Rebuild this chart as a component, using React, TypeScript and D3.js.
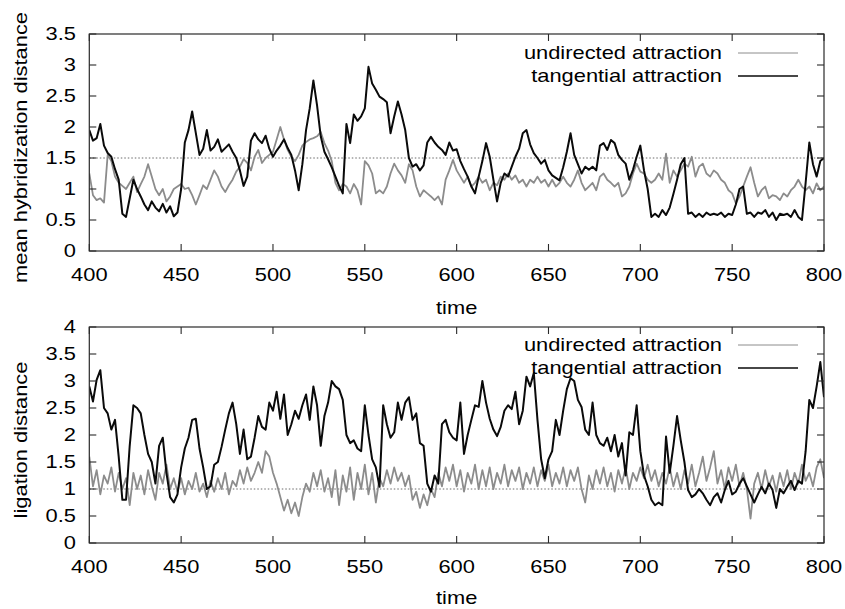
import React from "react";
import * as d3 from "d3";

const times = d3.range(400, 801, 2);
const xTicks = [400, 450, 500, 550, 600, 650, 700, 750, 800];
const hybTicks = [0, 0.5, 1, 1.5, 2, 2.5, 3, 3.5];
const ligTicks = [0, 0.5, 1, 1.5, 2, 2.5, 3, 3.5, 4];
const seriesNames = ["undirected attraction", "tangential attraction"];

const hybUndirected = [
  1.25, 0.90, 0.82, 0.85, 0.78, 1.55, 1.45, 1.20, 1.10, 1.05,
  1.00, 1.10, 1.20, 0.95, 1.08, 1.20, 1.40, 1.20, 1.00, 0.90,
  1.00, 0.80, 0.88, 1.00, 1.04, 1.08, 1.00, 1.02, 0.90, 0.75,
  0.90, 1.06, 1.00, 1.15, 1.30, 1.20, 1.04, 0.95, 1.06, 1.15,
  1.28, 1.36, 1.48, 1.42, 1.30, 1.52, 1.63, 1.42, 1.50, 1.55,
  1.60, 1.80, 2.00, 1.80, 1.63, 1.52, 1.45, 1.55, 1.70, 1.76,
  1.80, 1.82, 1.85, 1.92, 1.74, 1.62, 1.45, 1.10, 0.98, 1.08,
  1.04, 0.93, 1.08, 0.98, 0.75, 1.45, 1.38, 1.25, 0.93, 0.98,
  0.93, 1.04, 1.25, 1.41, 1.30, 1.22, 1.10, 1.40, 1.30, 1.04,
  0.88, 0.98, 0.93, 0.88, 0.82, 0.88, 0.75, 1.15, 1.30, 1.47,
  1.30, 1.20, 1.10, 1.20, 1.04, 1.10, 1.20, 1.10, 1.15, 0.98,
  1.10, 1.06, 1.20, 1.15, 1.25, 1.15, 1.22, 1.10, 1.15, 1.04,
  1.15, 1.10, 1.20, 1.10, 1.15, 1.04, 1.15, 1.04, 1.10, 1.20,
  1.10, 1.04, 1.15, 1.30, 1.10, 0.98, 1.04, 1.10, 0.98, 1.20,
  1.25, 1.15, 1.10, 1.04, 1.10, 0.88, 0.93, 1.04, 1.25, 1.41,
  1.28, 1.25, 1.15, 1.10, 1.15, 1.25, 1.15, 1.57, 1.10, 1.30,
  1.20, 1.30, 1.41, 1.36, 1.52, 1.20, 1.36, 1.41, 1.25, 1.20,
  1.30, 1.25, 1.15, 1.10, 0.98, 0.93, 0.77, 0.88, 1.04, 1.20,
  1.35, 1.10, 0.88, 0.98, 1.04, 0.85, 0.90, 0.88, 0.82, 0.93,
  0.88, 0.98, 1.04, 1.15, 1.04, 0.98, 1.04, 0.93, 1.09, 0.98,
  1.04,
];

const hybTangential = [
  1.95, 1.78, 1.82, 2.05, 1.70, 1.58, 1.52, 1.32, 1.15, 0.60,
  0.55, 0.85, 1.15, 1.00, 0.88, 0.75, 0.66, 0.80, 0.70, 0.64,
  0.76, 0.62, 0.72, 0.56, 0.62, 1.00, 1.75, 1.95, 2.25, 1.90,
  1.55, 1.65, 1.95, 1.62, 1.68, 1.80, 1.60, 1.66, 1.72, 1.60,
  1.50, 1.30, 1.05, 1.20, 1.78, 1.90, 1.80, 1.74, 1.86, 1.65,
  1.52, 1.62, 1.70, 1.80, 1.66, 1.55, 1.30, 0.98, 1.40, 1.95,
  2.30, 2.75, 2.35, 1.85, 1.60, 1.48, 1.35, 1.20, 1.05, 0.93,
  2.05, 1.74, 2.20, 2.10, 2.17, 2.30, 2.97, 2.70, 2.60, 2.49,
  2.45, 2.40, 1.90, 2.17, 2.41, 2.20, 1.95, 1.50, 1.36, 1.40,
  1.30, 1.38, 1.75, 1.84, 1.75, 1.68, 1.63, 1.55, 1.75, 1.62,
  1.64, 1.45, 1.32, 1.20, 1.04, 0.93, 1.20, 1.45, 1.74, 1.52,
  1.15, 0.80, 1.10, 1.25, 1.20, 1.36, 1.52, 1.65, 1.90, 1.95,
  1.72, 1.58, 1.50, 1.41, 1.47, 1.30, 1.22, 1.18, 1.14, 1.35,
  1.60, 1.90, 1.55, 1.40, 1.25, 1.36, 1.31, 1.36, 1.30, 1.70,
  1.74, 1.63, 1.79, 1.74, 1.55, 1.47, 1.41, 1.15, 1.31, 1.52,
  1.70, 1.30, 1.00, 0.55, 0.60, 0.55, 0.66, 0.58, 0.70, 0.92,
  1.15, 1.40, 1.50, 0.60, 0.62, 0.55, 0.60, 0.55, 0.62, 0.58,
  0.60, 0.58, 0.62, 0.55, 0.60, 0.58, 0.75, 1.00, 1.04, 0.60,
  0.62, 0.55, 0.62, 0.60, 0.66, 0.55, 0.62, 0.50, 0.60, 0.58,
  0.60, 0.55, 0.66, 0.55, 0.50, 1.10, 1.75, 1.40, 1.20, 1.45,
  1.50,
];

const ligUndirected = [
  1.60, 1.05, 1.35, 0.90, 1.25, 1.10, 1.40, 0.95, 1.30, 1.00,
  1.20, 0.70, 1.30, 1.00, 1.25, 0.90, 1.35, 1.05, 0.80, 1.30,
  1.10, 1.45, 1.00, 1.20, 0.95, 1.20, 0.90, 1.15, 1.00, 1.30,
  0.95, 1.10, 0.85, 1.15, 0.95, 1.20, 1.00, 1.30, 0.90, 1.15,
  1.05, 1.35, 1.10, 1.40, 1.15, 1.30, 1.50, 1.30, 1.70, 1.60,
  1.30, 1.10, 0.85, 0.60, 0.80, 0.55, 0.75, 0.50, 0.85, 1.10,
  0.95, 1.30, 1.05, 1.35, 0.95, 1.20, 0.85, 1.35, 0.70, 1.25,
  0.95, 1.40, 0.80, 1.30, 1.00, 1.45, 0.90, 1.30, 0.75, 1.20,
  1.05, 1.35, 1.10, 1.40, 1.15, 1.30, 1.05, 1.25, 0.80, 0.95,
  0.65, 0.90, 0.70, 1.00, 0.85, 1.30, 1.05, 1.40, 1.15, 1.45,
  1.05, 1.35, 0.95, 1.30, 1.10, 1.45, 1.00, 1.35, 1.05, 1.40,
  1.00, 1.30, 1.10, 1.45, 1.05, 1.35, 1.15, 1.40, 1.00, 1.30,
  1.10, 1.40, 1.05, 1.35, 1.15, 1.45, 1.05, 1.30, 1.10, 1.40,
  1.05, 1.35, 1.15, 1.40, 1.00, 0.75, 1.25, 1.00, 1.35, 1.10,
  1.40, 1.05, 1.30, 0.95, 1.35, 1.10, 1.40, 1.00, 1.30, 1.15,
  1.40, 1.20, 1.45, 1.15, 1.35, 1.05, 1.30, 1.10, 1.40, 1.05,
  1.30, 1.00, 1.35, 1.10, 1.45, 1.05, 1.30, 1.60, 1.15, 1.40,
  1.70, 1.10, 1.35, 1.00, 1.40, 1.15, 1.45, 1.05, 1.30, 1.00,
  0.45, 1.10, 1.30, 1.00, 1.35, 1.05, 1.25, 0.95, 1.30, 1.05,
  1.35, 1.00, 1.30, 1.10, 1.45, 1.15, 1.30, 1.05, 1.40, 1.55,
  1.20,
];

const ligTangential = [
  2.90, 2.62, 3.02, 3.20, 2.50, 2.40, 2.10, 2.28, 1.60, 0.80,
  0.80, 1.80, 2.55, 2.50, 2.40, 2.00, 1.65, 1.50, 1.10, 1.80,
  1.95, 1.30, 0.85, 0.75, 0.90, 1.40, 1.75, 1.95, 2.28, 2.30,
  1.75, 1.40, 1.00, 1.05, 1.45, 1.50, 1.78, 2.10, 2.40, 2.60,
  2.20, 1.65, 2.10, 1.55, 1.60, 1.95, 2.35, 2.15, 2.10, 2.60,
  2.45, 2.80, 2.30, 2.75, 2.00, 2.20, 2.45, 2.30, 2.55, 2.75,
  2.28, 2.90, 2.55, 1.80, 2.35, 2.60, 3.00, 2.90, 2.85, 2.65,
  2.00, 1.85, 1.90, 1.75, 1.70, 2.55, 2.00, 1.55, 1.40, 1.04,
  2.55, 2.20, 1.95, 2.05, 2.60, 2.28, 2.60, 2.70, 2.28, 2.40,
  1.85, 1.80, 1.10, 0.95, 1.25, 1.10, 2.20, 2.28, 2.05, 1.95,
  1.90, 2.60, 1.65, 2.00, 2.28, 2.55, 2.52, 3.00, 2.60, 2.30,
  2.10, 1.98, 2.15, 2.45, 2.55, 2.48, 2.80, 2.20, 2.45, 3.08,
  2.90, 3.15, 2.28, 1.55, 1.20, 1.55, 1.70, 2.28, 2.00, 2.45,
  2.85, 3.05, 3.00, 2.65, 2.52, 2.10, 2.00, 2.60, 2.00, 1.85,
  1.80, 1.95, 1.70, 2.00, 1.60, 1.85, 1.25, 2.05, 2.00, 2.55,
  1.70, 1.25, 1.05, 0.80, 0.70, 0.75, 0.70, 1.97, 1.30, 1.80,
  2.35, 1.90, 1.50, 0.98, 0.85, 0.90, 1.00, 0.92, 0.80, 0.70,
  0.85, 0.92, 0.75, 0.98, 1.15, 0.90, 0.95, 1.10, 1.20, 1.05,
  0.90, 0.75, 0.90, 1.04, 0.92, 1.10, 0.98, 0.65, 1.00, 0.92,
  1.04, 1.15, 0.98, 1.15, 1.10, 1.70, 2.65, 2.50, 2.90, 3.35,
  2.70,
];

const FONT = "'Liberation Sans', Arial, Helvetica, sans-serif";
const FS = 17.5;
const SX = 1.25;
const GREY = "#8c8c8c";
const BLACK = "#0a0a0a";
const FRAME = "#2a2a2a";

const X0 = 89.3;
const X1 = 824;

type PanelProps = {
  top: number;
  bottom: number;
  yMax: number;
  yTicks: number[];
  refValue: number;
  grey: number[];
  black: number[];
  yLabel: string;
  legendY: [number, number];
  tickLabelBaseline: number;
  timeBaseline: number;
  clipId: string;
};

function Label({ x, y, anchor, children, rotate }: any) {
  const t = rotate
    ? `translate(${x},${y}) rotate(-90) scale(${SX},1)`
    : `translate(${x},${y}) scale(${SX},1)`;
  return (
    <text
      transform={t}
      textAnchor={anchor}
      fontFamily={FONT}
      fontSize={FS}
      fill="#000"
    >
      {children}
    </text>
  );
}

function Panel(p: PanelProps) {
  const x = d3.scaleLinear().domain([400, 800]).range([X0, X1]);
  const y = d3.scaleLinear().domain([0, p.yMax]).range([p.bottom, p.top]);
  const line = d3
    .line<number>()
    .x((_, i) => x(times[i]))
    .y((d) => y(d));
  const tl = 7;
  const fmt = (v: number) => String(v);
  return (
    <g>
      <defs>
        <clipPath id={p.clipId}>
          <rect x={X0} y={p.top} width={X1 - X0} height={p.bottom - p.top} />
        </clipPath>
      </defs>
      <line
        x1={X0}
        x2={X1}
        y1={y(p.refValue)}
        y2={y(p.refValue)}
        stroke="#444"
        strokeWidth={0.8}
        strokeDasharray="1.5,2"
      />
      <g clipPath={`url(#${p.clipId})`}>
        <path d={line(p.grey) || ""} fill="none" stroke={GREY} strokeWidth={1.8} strokeLinejoin="round" />
        <path d={line(p.black) || ""} fill="none" stroke={BLACK} strokeWidth={2} strokeLinejoin="round" />
      </g>
      <rect
        x={X0}
        y={p.top}
        width={X1 - X0}
        height={p.bottom - p.top}
        fill="none"
        stroke={FRAME}
        strokeWidth={1.2}
      />
      {xTicks.map((t) => (
        <g key={"x" + t}>
          <line x1={x(t)} x2={x(t)} y1={p.bottom} y2={p.bottom - tl} stroke={FRAME} strokeWidth={1.1} />
          <line x1={x(t)} x2={x(t)} y1={p.top} y2={p.top + tl} stroke={FRAME} strokeWidth={1.1} />
          <Label x={x(t)} y={p.tickLabelBaseline} anchor="middle">
            {fmt(t)}
          </Label>
        </g>
      ))}
      {p.yTicks.map((t) => (
        <g key={"y" + t}>
          <line x1={X0} x2={X0 + tl} y1={y(t)} y2={y(t)} stroke={FRAME} strokeWidth={1.1} />
          <line x1={X1} x2={X1 - tl} y1={y(t)} y2={y(t)} stroke={FRAME} strokeWidth={1.1} />
          <Label x={76} y={y(t) + 6} anchor="end">
            {fmt(t)}
          </Label>
        </g>
      ))}
      <Label x={(X0 + X1) / 2} y={p.timeBaseline} anchor="middle">
        time
      </Label>
      <Label x={26.5} y={(p.top + p.bottom) / 2 + 5} anchor="middle" rotate>
        {p.yLabel}
      </Label>
      {seriesNames.map((name, i) => (
        <g key={name}>
          <Label x={722} y={p.legendY[i] + 6} anchor="end">
            {name}
          </Label>
          <line
            x1={738}
            x2={798}
            y1={p.legendY[i]}
            y2={p.legendY[i]}
            stroke={i === 0 ? GREY : BLACK}
            strokeWidth={i === 0 ? 1 : 1.5}
          />
        </g>
      ))}
    </g>
  );
}

export default function App() {
  return (
    <div style={{ position: "absolute", left: 0, top: 0 }}>
      <svg width={845} height={609} style={{ display: "block", background: "#fff" }}>
        <Panel
          top={34}
          bottom={251}
          yMax={3.5}
          yTicks={hybTicks}
          refValue={1.5}
          grey={hybUndirected}
          black={hybTangential}
          yLabel="mean hybridization distance"
          legendY={[53, 76]}
          tickLabelBaseline={281}
          timeBaseline={314}
          clipId="clipTop"
        />
        <Panel
          top={327}
          bottom={543}
          yMax={4}
          yTicks={ligTicks}
          refValue={1}
          grey={ligUndirected}
          black={ligTangential}
          yLabel="ligation distance"
          legendY={[345, 368]}
          tickLabelBaseline={573}
          timeBaseline={604}
          clipId="clipBottom"
        />
      </svg>
    </div>
  );
}
